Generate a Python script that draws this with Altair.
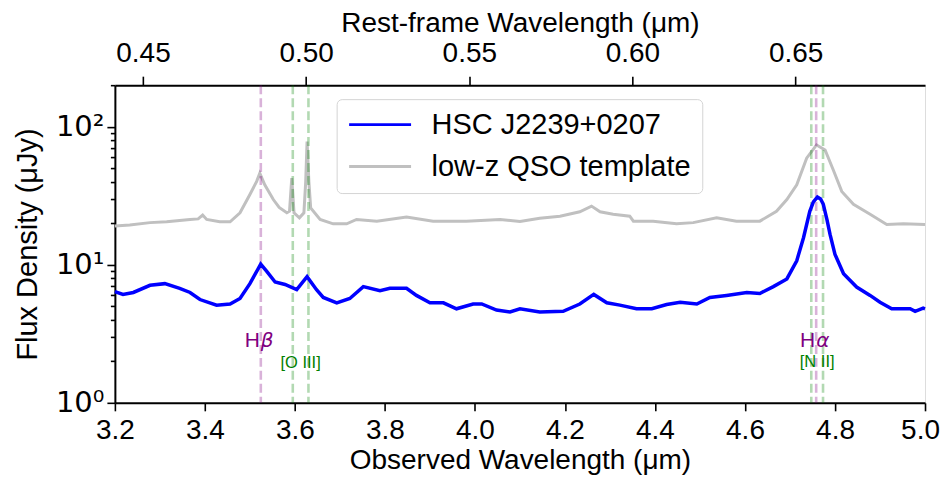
import altair as alt
import pandas as pd

ONE_PLUS_Z = 7.25

series_names = ["HSC J2239+0207", "low-z QSO template"]
series_colors = ["#0000ff", "#c0c0c0"]

# observed spectrum of HSC J2239+0207 (observed wavelength in um, flux in uJy)
blue_wl = [3.200, 3.218, 3.241, 3.278, 3.311, 3.344, 3.367, 3.389, 3.426, 3.456,
           3.478, 3.500, 3.524, 3.537, 3.556, 3.578, 3.604, 3.627, 3.648, 3.663,
           3.693, 3.722, 3.752, 3.789, 3.811, 3.848, 3.870, 3.900, 3.930, 3.959,
           3.996, 4.015, 4.048, 4.078, 4.100, 4.144, 4.196, 4.233, 4.264, 4.293,
           4.322, 4.359, 4.393, 4.426, 4.456, 4.493, 4.522, 4.559, 4.604, 4.633,
           4.663, 4.693, 4.715, 4.730, 4.744, 4.752, 4.761, 4.768, 4.774, 4.782,
           4.789, 4.800, 4.819, 4.848, 4.878, 4.900, 4.926, 4.967, 4.978, 4.996, 5.000]
blue_flux = [6.4, 6.1, 6.3, 7.1, 7.3, 6.75, 6.3, 5.6, 5.1, 5.2,
             5.7, 7.3, 10.1, 9.0, 7.5, 7.2, 6.6, 8.2, 6.6, 5.8,
             5.3, 5.7, 6.95, 6.5, 6.75, 6.75, 6.0, 5.3, 5.3, 4.8,
             5.2, 5.2, 4.7, 4.55, 4.8, 4.55, 4.6, 5.2, 6.1, 5.3,
             5.1, 4.8, 4.8, 5.15, 5.35, 5.2, 5.8, 6.0, 6.3, 6.2,
             6.95, 7.9, 10.7, 15.7, 24.4, 28.5, 31.0, 30.0, 27.4, 21.3,
             16.6, 11.9, 8.6, 6.9, 6.0, 5.35, 4.8, 4.8, 4.6, 4.85, 4.8]

# low-z QSO template
tmpl_wl = [3.200, 3.233, 3.278, 3.315, 3.367, 3.385, 3.395, 3.404, 3.433, 3.456,
           3.478, 3.500, 3.515, 3.522, 3.533, 3.552, 3.565, 3.582, 3.588, 3.593,
           3.598, 3.610, 3.620, 3.624, 3.627, 3.631, 3.635, 3.656, 3.685, 3.715,
           3.737, 3.782, 3.848, 3.907, 3.981, 4.056, 4.100, 4.144, 4.189, 4.233,
           4.259, 4.278, 4.307, 4.344, 4.352, 4.396, 4.448, 4.485, 4.537, 4.581,
           4.633, 4.670, 4.693, 4.715, 4.737, 4.759, 4.778, 4.796, 4.815, 4.841,
           4.878, 4.915, 4.952, 5.000]
tmpl_flux = [19.1, 19.4, 20.2, 20.5, 21.3, 21.5, 22.9, 21.3, 20.5, 20.5,
             23.8, 32.3, 40.2, 46.1, 38.0, 29.7, 26.0, 23.8, 24.5, 42.5,
             23.8, 21.9, 23.8, 40.0, 78.0, 40.0, 25.8, 21.3, 19.8, 19.8,
             21.3, 20.7, 22.2, 20.7, 20.7, 21.3, 20.6, 21.7, 22.5, 24.2,
             26.6, 24.2, 23.2, 22.5, 20.7, 20.7, 19.8, 20.2, 21.9, 20.7,
             20.7, 24.4, 29.7, 38.0, 59.2, 73.8, 67.9, 48.8, 34.0, 27.4,
             23.2, 19.6, 19.8, 19.6]

# emission lines (rest-frame um)
balmer_rest = [0.4861, 0.6563]
forbidden_rest = [0.4959, 0.5007, 0.6548, 0.6584]

# line labels
balmer_label_rest = [0.4861, 0.6563]
balmer_label_flux = [2.53, 2.54]
balmer_greek = ["β", "α"]
forb_label_rest = [0.4983, 0.6566]
forb_label_flux = [1.79, 1.81]
forb_label_text = ["[O III]", "[N II]"]

obs_ticks = [3.2, 3.4, 3.6, 3.8, 4.0, 4.2, 4.4, 4.6, 4.8, 5.0]
rest_ticks = [0.45, 0.50, 0.55, 0.60, 0.65]
flux_major = [1, 10, 100]
flux_minor = [2, 3, 4, 5, 6, 7, 8, 9, 20, 30, 40, 50, 60, 70, 80, 90, 200]

FONT = "Liberation Sans"
FS = 28

df_blue = pd.DataFrame({"wl": blue_wl, "flux": blue_flux, "series": series_names[0]})
df_tmpl = pd.DataFrame({"wl": tmpl_wl, "flux": tmpl_flux, "series": series_names[1]})
df_balmer = pd.DataFrame({"rest": balmer_rest})
df_forb = pd.DataFrame({"rest": forbidden_rest})
df_h = pd.DataFrame({"rest": balmer_label_rest, "flux": balmer_label_flux, "t": ["H", "H"]})
df_greek = pd.DataFrame({"rest": balmer_label_rest, "flux": balmer_label_flux, "t": balmer_greek})
df_forb_lab = pd.DataFrame({"rest": forb_label_rest, "flux": forb_label_flux, "t": forb_label_text})

obs_scale = alt.Scale(domain=[3.2, 5.0], nice=False, zero=False)
rest_scale = alt.Scale(domain=[3.2 / ONE_PLUS_Z, 5.0 / ONE_PLUS_Z], nice=False, zero=False)
y_scale = alt.Scale(type="log", domain=[1, 200], nice=False)

all_y_ticks = flux_major + flux_minor
y_axis = alt.Axis(
    values=all_y_ticks,
    labelExpr="datum.value == 1 ? '10⁰' : datum.value == 10 ? '10¹' : datum.value == 100 ? '10²' : ''",
    labelFont="DejaVu Sans", labelFontSize=29, labelColor="black", labelPadding=3,
    labelFlush=False,
    tickSize={"condition": {"test": "indexof([1, 10, 100], datum.value) >= 0", "value": 8}, "value": 4.5},
    tickColor="black", tickWidth=1.6,
    domainColor="black", domainWidth=2,
    grid=False, labelOverlap=False,
    title="Flux Density (μJy)", titleFont=FONT, titleFontSize=29, titleFontWeight="normal",
    titleColor="black", titlePadding=13,
)

bottom_axis = alt.Axis(
    orient="bottom", values=obs_ticks, format=".1f",
    labelFont=FONT, labelFontSize=FS, labelColor="black", labelPadding=6,
    labelFlush=False,
    labelOffset={"condition": {"test": "datum.value >= 4.99", "value": -5}, "value": 0},
    tickSize=8, tickColor="black", tickWidth=1.6,
    domainColor="black", domainWidth=2, grid=False,
    title="Observed Wavelength (μm)", titleFont=FONT, titleFontSize=FS,
    titleFontWeight="normal", titleColor="black", titlePadding=2,
)

top_axis = alt.Axis(
    orient="top", values=rest_ticks, format=".2f",
    labelFont=FONT, labelFontSize=FS, labelColor="black", labelPadding=9,
    labelFlush=False,
    tickSize=9, tickColor="black", tickWidth=1.6,
    domainColor="black", domainWidth=2, grid=False,
    title="Rest-frame Wavelength (μm)", titleFont=FONT, titleFontSize=FS,
    titleFontWeight="normal", titleColor="black", titlePadding=2,
)

color = alt.Color(
    "series:N",
    scale=alt.Scale(domain=series_names, range=series_colors),
    legend=alt.Legend(
        title=None, orient="none", legendX=222, legendY=14,
        symbolType="stroke", symbolSize=3844, symbolStrokeWidth=3,
        clipHeight=29,
        labelFont=FONT, labelFontSize=29, labelColor="black", labelOffset=19,
        labelLimit=0,
        padding=11, rowPadding=12, cornerRadius=5,
        strokeColor="#d4d4d4", fillColor="white",
    ),
)

tmpl = alt.Chart(df_tmpl).mark_line(strokeWidth=3).encode(
    x=alt.X("wl:Q", scale=obs_scale, axis=bottom_axis),
    y=alt.Y("flux:Q", scale=y_scale, axis=y_axis),
    color=color,
)

blue = alt.Chart(df_blue).mark_line(strokeWidth=3.5).encode(
    x=alt.X("wl:Q", scale=obs_scale, axis=None),
    y=alt.Y("flux:Q", scale=y_scale, axis=y_axis),
    color=color,
)

x_rest = alt.X("rest:Q", scale=rest_scale, axis=top_axis)

rules_balmer = alt.Chart(df_balmer).mark_rule(
    color="#800080", opacity=0.3, strokeWidth=2.6, strokeDash=[9, 4]
).encode(x=x_rest)
rules_forb = alt.Chart(df_forb).mark_rule(
    color="#008000", opacity=0.3, strokeWidth=2.6, strokeDash=[9, 4]
).encode(x=x_rest)

txt_h = alt.Chart(df_h).mark_text(
    align="right", baseline="alphabetic", dx=-1, font=FONT, fontSize=21, color="#800080"
).encode(x=x_rest, y=alt.Y("flux:Q", scale=y_scale, axis=y_axis), text="t:N")
txt_greek = alt.Chart(df_greek).mark_text(
    align="left", baseline="alphabetic", dx=0, font="DejaVu Sans", fontStyle="italic",
    fontSize=20, color="#800080"
).encode(x=x_rest, y=alt.Y("flux:Q", scale=y_scale, axis=y_axis), text="t:N")
txt_forb = alt.Chart(df_forb_lab).mark_text(
    align="center", baseline="alphabetic", font=FONT, fontSize=16.5, color="#008000"
).encode(x=x_rest, y=alt.Y("flux:Q", scale=y_scale, axis=y_axis), text="t:N")

lines_layer = alt.layer(rules_balmer, rules_forb, txt_h, txt_greek, txt_forb)

chart = alt.layer(tmpl, lines_layer, blue).resolve_scale(
    x="independent"
).properties(
    width=811, height=318,
    padding={"left": 5, "top": 1, "right": 0, "bottom": 0},
).configure_view(
    stroke="black", strokeWidth=2
).configure(font=FONT, background="white")

chart.save("out.html", embed_options={"renderer": "svg", "actions": False})
